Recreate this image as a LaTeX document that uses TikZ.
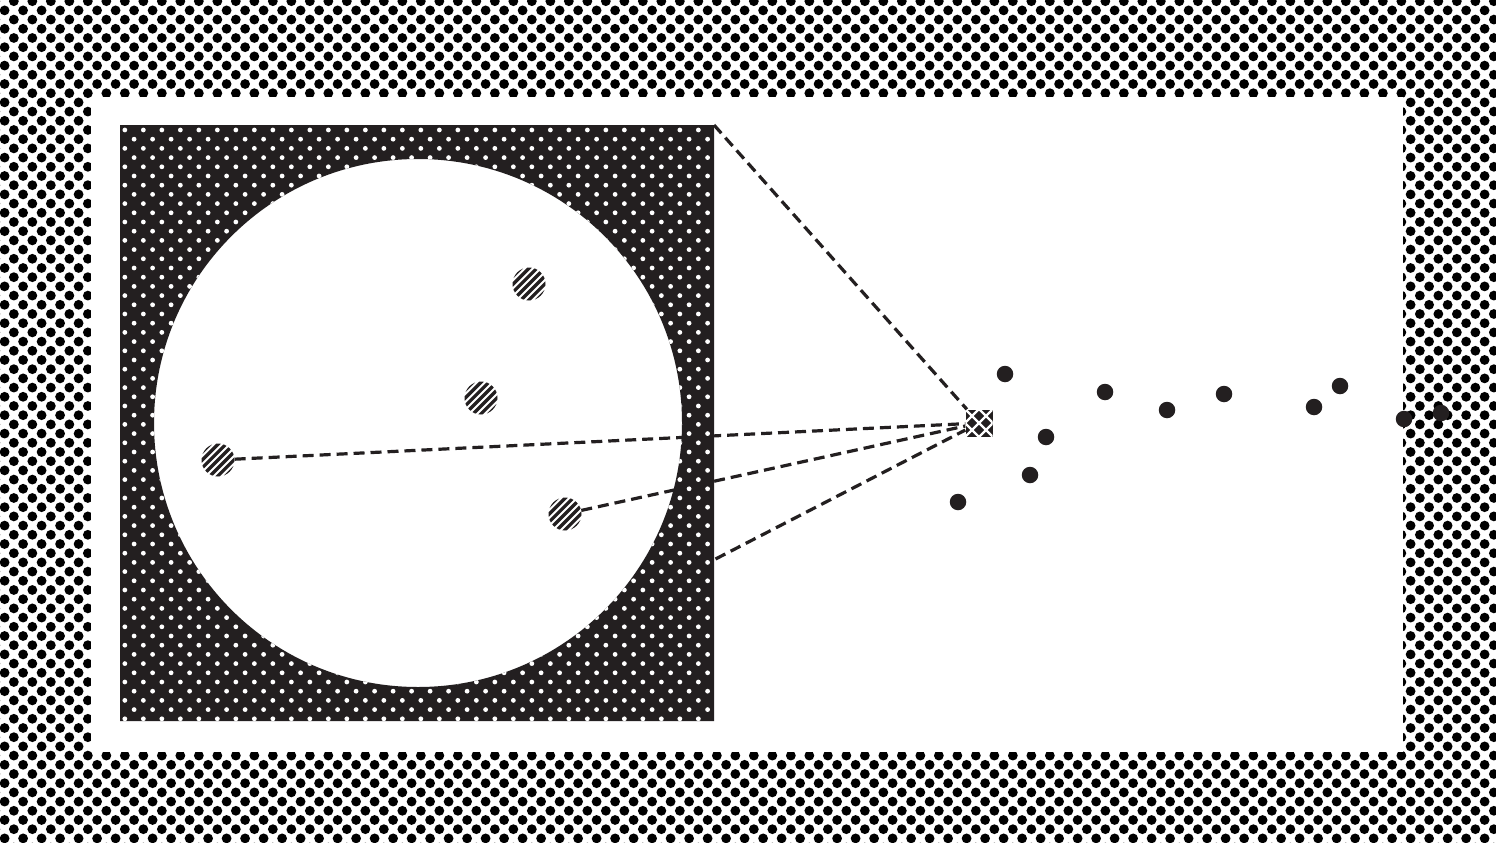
\documentclass[tikz,border=0pt]{standalone}
\usetikzlibrary{patterns}
\definecolor{ink}{HTML}{231F20}

% dot screens for the outer band and the lens frame
\pgfdeclarepatternformonly{borderdots}{\pgfpoint{-0.5pt}{-0.5pt}}{\pgfpoint{19pt}{19pt}}{\pgfpoint{18.5pt}{18.4pt}}{%
  \pgfpathcircle{\pgfpoint{4.6pt}{4.6pt}}{4.9pt}
  \pgfpathcircle{\pgfpoint{13.85pt}{13.8pt}}{4.9pt}
  \pgfusepath{fill}}
\pgfdeclarepatternformonly{lensdots}{\pgfpoint{-0.5pt}{-0.5pt}}{\pgfpoint{19pt}{19pt}}{\pgfpoint{18.5pt}{18.4pt}}{%
  \pgfpathcircle{\pgfpoint{4.6pt}{4.6pt}}{2.4pt}
  \pgfpathcircle{\pgfpoint{13.85pt}{13.8pt}}{2.4pt}
  \pgfusepath{fill}}

\begin{document}
\begin{tikzpicture}[x=1pt, y=-1pt,
    dot/.style={circle, fill=ink, minimum size=16.5pt, inner sep=0pt},
    hatchdot/.style={circle, minimum size=33pt, inner sep=0pt, path picture={
        \foreach \k in {-4,...,4}
          \draw[ink, line width=3.3pt, shift={(path picture bounding box.center)}]
            (-25+3.96*\k, 25+3.96*\k) -- (25+3.96*\k, -25+3.96*\k);}},
    probe/.style={rectangle, fill=ink, minimum size=27pt, inner sep=0pt, path picture={
        \foreach \k in {-1,0,1} {
          \draw[white, line width=2.4pt, shift={(path picture bounding box.center)}]
            (-25+7*\k, -25-7*\k) -- (25+7*\k, 25-7*\k);
          \draw[white, line width=2.4pt, shift={(path picture bounding box.center)}]
            (-25+7*\k, 25+7*\k) -- (25+7*\k, -25+7*\k);}}},
    zoomline/.style={ink, line width=3.2pt, dash pattern=on 11pt off 6pt}
]
    \useasboundingbox (0,0) rectangle (1496,843);

    % Outer band
    \fill[white] (0,0) rectangle (1496,843);
    \fill[pattern=borderdots, pattern color=black] (0,0) rectangle (1496,843);
    \fill[white] (91,97) rectangle (1403,752);

    % Points inside the lens
    \node[hatchdot] (h1) at (529,284) {};
    \node[hatchdot] (h2) at (481,398) {};
    \node[hatchdot] (h3) at (218,460) {};
    \node[hatchdot] (h4) at (565,514) {};

    % Probe and scattered points
    \node[probe] (probe) at (979,423) {};
    \node[dot] (d1) at (1005,374) {};
    \node[dot] (d2) at (1105,392) {};
    \node[dot] (d3) at (1167,410) {};
    \node[dot] (d4) at (1224,394) {};
    \node[dot] (d5) at (1314,407) {};
    \node[dot] (d6) at (1340,386) {};
    \node[dot] (d7) at (1404,419) {};
    \node[dot] (d8) at (1441,413) {};
    \node[dot] (d9) at (1046,437) {};
    \node[dot] (d10) at (1030,475) {};
    \node[dot] (d11) at (958,502) {};

    % Zoom lines
    \coordinate (lenscorner) at (714,125);
    \coordinate (lenslow) at (640,598);
    \draw[zoomline] (lenscorner) -- (probe);
    \draw[zoomline] (h3) -- (probe);
    \draw[zoomline] (h4) -- (probe);
    \draw[zoomline] (lenslow) -- (probe);

    % Lens frame
    \fill[ink, even odd rule] (120,125) rectangle (714,721) (418,423) circle[radius=264pt];
    \fill[pattern=lensdots, pattern color=white, even odd rule] (120,125) rectangle (714,721) (418,423) circle[radius=264pt];
\end{tikzpicture}
\end{document}
